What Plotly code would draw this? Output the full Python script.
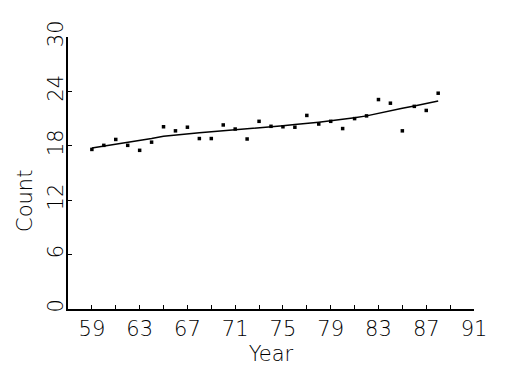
import plotly.graph_objects as go

years = list(range(59, 89))
counts = [17.6, 18.05, 18.7, 18.05, 17.5, 18.4, 20.1, 19.65, 20.05, 18.8,
          18.8, 20.3, 19.85, 18.75, 20.7, 20.15, 20.1, 20.05, 21.35, 20.4,
          20.7, 19.9, 21.0, 21.3, 23.1, 22.7, 19.65, 22.35, 21.9, 23.8]
smooth = [17.75, 17.95, 18.2, 18.4, 18.6, 18.8, 19.05, 19.2, 19.35, 19.45,
          19.55, 19.65, 19.75, 19.85, 19.95, 20.1, 20.2, 20.35, 20.45, 20.6,
          20.75, 20.9, 21.1, 21.3, 21.6, 21.85, 22.15, 22.4, 22.7, 22.95]
x_ticks = [59, 63, 67, 71, 75, 79, 83, 87, 91]
y_ticks = [0, 6, 12, 18, 24, 30]

FONT = "DejaVu Sans"
fig = go.Figure()
fig.add_trace(go.Scatter(x=years, y=smooth, mode="lines",
                         line=dict(color="black", width=1.5), hoverinfo="skip"))
fig.add_trace(go.Scatter(x=years, y=counts, mode="markers",
                         marker=dict(color="black", size=3.5, symbol="square")))

fig.update_layout(
    width=525, height=375,
    margin=dict(l=68, r=51, t=37, b=66),
    paper_bgcolor="white", plot_bgcolor="white",
    showlegend=False,
    font=dict(family=FONT, size=21, color="#000000", weight=200),
    xaxis=dict(range=[57, 91], tickvals=x_ticks, ticks="inside", ticklen=4,
               tickwidth=1, tickcolor="black", showgrid=False, zeroline=False,
               showline=True, linecolor="black", linewidth=2,
               minor=dict(dtick=2, tick0=57, ticks="inside", ticklen=4,
                          tickwidth=1, tickcolor="black", showgrid=False),
               title=dict(text="Year", standoff=6,
                          font=dict(family=FONT, size=21, color="#000000", weight=200)),
               tickfont=dict(family=FONT, size=21, color="#000000", weight=200)),
    yaxis=dict(range=[0, 30], tickvals=y_ticks, ticks="inside", ticklen=4,
               tickwidth=1, tickcolor="black", showgrid=False, zeroline=False,
               showline=True, linecolor="black", linewidth=2, tickangle=-90,
               ticklabelstandoff=-5,
               tickfont=dict(family=FONT, size=21, color="#000000", weight=200)),
)
fig.add_annotation(text="Count", xref="paper", yref="paper",
                   x=(25 - 68) / 406, y=(309 - 201) / 272,
                   xanchor="center", yanchor="middle", textangle=-90,
                   showarrow=False,
                   font=dict(family=FONT, size=21, color="#000000", weight=200))
fig.write_html("out.html")
